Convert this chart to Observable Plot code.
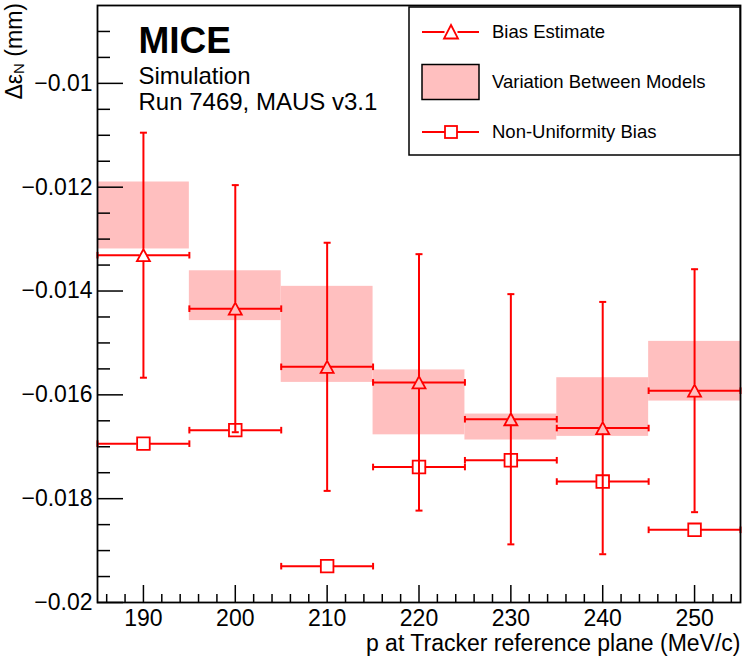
<!DOCTYPE html>
<html>
<head>
<meta charset="utf-8">
<script src="https://cdn.jsdelivr.net/npm/d3@7"></script>
<script src="https://cdn.jsdelivr.net/npm/@observablehq/plot@0.6"></script>
<style>
  body { margin: 0; background: #fff; }
  #chart { width: 747px; height: 657px; }
</style>
</head>
<body>
<div id="chart"></div>
<script>
// ---- data ----
const momentum = [190, 200, 210, 220, 230, 240, 250];
const binHalfWidth = 5;
const biasEstimate = [-0.01331, -0.01434, -0.01546, -0.01576, -0.01647, -0.01664, -0.01592];
const biasError = [0.00236, 0.00238, 0.00239, 0.00247, 0.00241, 0.00243, 0.00234];
const modelUpper = [-0.01190, -0.01361, -0.01391, -0.01552, -0.01637, -0.01567, -0.01497];
const modelLower = [-0.01319, -0.01457, -0.01576, -0.01677, -0.01687, -0.01680, -0.01612];
const nonUniformity = [-0.01694, -0.01668, -0.01930, -0.01739, -0.01726, -0.01767, -0.01860];

const xMajorTicks = [190, 200, 210, 220, 230, 240, 250];
const xMinorTicks = [186, 188, 192, 194, 196, 198, 202, 204, 206, 208, 212, 214, 216, 218, 222, 224, 226, 228,
                     232, 234, 236, 238, 242, 244, 246, 248, 252, 254];
const yMajorTicks = [-0.02, -0.018, -0.016, -0.014, -0.012, -0.01];
const yTickLabels = ["\u22120.02", "\u22120.018", "\u22120.016", "\u22120.014", "\u22120.012", "\u22120.01"];
const yMinorTicks = [-0.0195, -0.019, -0.0185, -0.0175, -0.017, -0.0165, -0.0155, -0.015, -0.0145,
                     -0.0135, -0.013, -0.0125, -0.0115, -0.011, -0.0105, -0.0095, -0.009];

const seriesNames = ["Bias Estimate", "Variation Between Models", "Non-Uniformity Bias"];

// ---- styling ----
const RED = "#ff0000";
const BAND = "#ffbfbf";
const W = 747, H = 657;
const M = {left: 97, right: 7, top: 5, bottom: 55};
const plotW = W - M.left - M.right;
const plotH = H - M.top - M.bottom;
const FONT = "'Liberation Sans', Arial, Helvetica, sans-serif";

const rows = momentum.map((p, i) => ({
  p, lo: p - binHalfWidth, hi: p + binHalfWidth,
  bias: biasEstimate[i], bHi: biasEstimate[i] + biasError[i], bLo: biasEstimate[i] - biasError[i],
  mHi: modelUpper[i], mLo: modelLower[i], nu: nonUniformity[i]
}));

// custom symbols (fixed pixel size)
const triangle = {draw(c) { c.moveTo(0, -6); c.lineTo(6.5, 6); c.lineTo(-6.5, 6); c.closePath(); }};
const square = {draw(c) { c.moveTo(-6.3, -6.3); c.lineTo(6.3, -6.3); c.lineTo(6.3, 6.3); c.lineTo(-6.3, 6.3); c.closePath(); }};
const hcap = {draw(c) { c.moveTo(-3.5, 0); c.lineTo(3.5, 0); }};
const vcap = {draw(c) { c.moveTo(0, -3.3); c.lineTo(0, 3.3); }};

const ebar = {stroke: RED, strokeWidth: 2};

const chart = Plot.plot({
  width: W, height: H,
  marginLeft: M.left, marginRight: M.right, marginTop: M.top, marginBottom: M.bottom,
  style: {fontFamily: FONT, fontSize: "23px", background: "white", color: "black"},
  x: {domain: [185, 255], label: null},
  y: {domain: [-0.02, -0.0085], label: null},
  marks: [
    // model variation bands
    Plot.rect(rows, {x1: "lo", x2: "hi", y1: "mLo", y2: "mHi", fill: BAND}),
    // axis ticks (inside)
    Plot.ruleY(yMinorTicks, {y: d => d, insetRight: plotW - 13, stroke: "black", strokeWidth: 1.5}),
    Plot.ruleY(yMajorTicks, {y: d => d, insetRight: plotW - 26, stroke: "black", strokeWidth: 1.5}),
    Plot.ruleX(xMinorTicks, {x: d => d, insetTop: plotH - 8, stroke: "black", strokeWidth: 1.5}),
    Plot.ruleX(xMajorTicks, {x: d => d, insetTop: plotH - 17, stroke: "black", strokeWidth: 1.5}),
    // non-uniformity bias: horizontal bars
    Plot.ruleY(rows, {y: "nu", x1: "lo", x2: "p", insetRight: 6.3, ...ebar}),
    Plot.ruleY(rows, {y: "nu", x1: "p", x2: "hi", insetLeft: 6.3, ...ebar}),
    Plot.dot(rows, {x: "lo", y: "nu", symbol: vcap, fill: "none", ...ebar}),
    Plot.dot(rows, {x: "hi", y: "nu", symbol: vcap, fill: "none", ...ebar}),
    Plot.dot(rows, {x: "p", y: "nu", symbol: square, fill: "none", stroke: RED, strokeWidth: 1.8}),
    // bias estimate: vertical error bars
    Plot.ruleX(rows, {x: "p", y1: "bHi", y2: "bias", insetBottom: 6, ...ebar}),
    Plot.ruleX(rows, {x: "p", y1: "bias", y2: "bLo", insetTop: 6, ...ebar}),
    Plot.dot(rows, {x: "p", y: "bHi", symbol: hcap, fill: "none", ...ebar}),
    Plot.dot(rows, {x: "p", y: "bLo", symbol: hcap, fill: "none", ...ebar}),
    // bias estimate: horizontal bars
    Plot.ruleY(rows, {y: "bias", x1: "lo", x2: "p", insetRight: 3.3, ...ebar}),
    Plot.ruleY(rows, {y: "bias", x1: "p", x2: "hi", insetLeft: 3.3, ...ebar}),
    Plot.dot(rows, {x: "lo", y: "bias", symbol: vcap, fill: "none", ...ebar}),
    Plot.dot(rows, {x: "hi", y: "bias", symbol: vcap, fill: "none", ...ebar}),
    Plot.dot(rows, {x: "p", y: "bias", symbol: triangle, fill: "none", stroke: RED, strokeWidth: 1.8}),
    // frame
    Plot.frame({stroke: "black", strokeWidth: 1.8}),
    // axes labels
    Plot.axisX({ticks: xMajorTicks, tickSize: 0, tickPadding: 7, fontSize: 23, label: null, tickFormat: d => String(d)}),
    Plot.axisY({ticks: yMajorTicks, tickSize: 0, tickPadding: 5, fontSize: 23, label: null,
                tickFormat: (d, i) => yTickLabels[yMajorTicks.indexOf(d)]}),
    Plot.text(["p at Tracker reference plane (MeV/c)"], {frameAnchor: "bottom-right", text: d => d,
      textAnchor: "end", lineAnchor: "bottom", dx: 0, dy: 48, fontSize: 23}),
    // annotations
    Plot.text(["MICE"], {frameAnchor: "top-left", text: d => d, textAnchor: "start", lineAnchor: "bottom",
      dx: 41, dy: 47, fontSize: 37, fontWeight: "bold"}),
    Plot.text(["Simulation"], {frameAnchor: "top-left", text: d => d, textAnchor: "start", lineAnchor: "bottom",
      dx: 41, dy: 78, fontSize: 24}),
    Plot.text(["Run 7469, MAUS v3.1"], {frameAnchor: "top-left", text: d => d, textAnchor: "start", lineAnchor: "bottom",
      dx: 41, dy: 104, fontSize: 24})
  ]
});

document.getElementById("chart").appendChild(chart);

// ---- y-axis title with subscript ----
const svg = d3.select(chart);
const yt = svg.append("text")
  .attr("transform", "translate(22,3) rotate(-90)")
  .attr("text-anchor", "end")
  .attr("font-family", FONT)
  .attr("font-size", 23)
  .attr("fill", "black");
yt.append("tspan").text("\u0394\u03b5");
yt.append("tspan").attr("font-size", 15).attr("dy", 2).text("N");
yt.append("tspan").attr("dy", -2).text(" (mm)");

// ---- legend ----
const lg = svg.append("g").attr("font-family", FONT).attr("font-size", 18.5).attr("text-anchor", "start");
lg.append("rect").attr("x", 409).attr("y", 7).attr("width", 331).attr("height", 148)
  .attr("fill", "white").attr("stroke", "black").attr("stroke-width", 1.5);
const rowsY = [32, 82, 132];
// entry 1: bias estimate
lg.append("line").attr("x1", 422).attr("x2", 444.5).attr("y1", rowsY[0]).attr("y2", rowsY[0]).attr("stroke", RED).attr("stroke-width", 2);
lg.append("line").attr("x1", 457.5).attr("x2", 479).attr("y1", rowsY[0]).attr("y2", rowsY[0]).attr("stroke", RED).attr("stroke-width", 2);
lg.append("path").attr("d", `M451,${rowsY[0] - 7}L458,${rowsY[0] + 6.5}L444,${rowsY[0] + 6.5}Z`)
  .attr("fill", "none").attr("stroke", RED).attr("stroke-width", 1.8);
// entry 2: band
lg.append("rect").attr("x", 422).attr("y", 64.5).attr("width", 57).attr("height", 35)
  .attr("fill", BAND).attr("stroke", "black").attr("stroke-width", 1.5);
// entry 3: non-uniformity
lg.append("line").attr("x1", 422).attr("x2", 445).attr("y1", rowsY[2]).attr("y2", rowsY[2]).attr("stroke", RED).attr("stroke-width", 2);
lg.append("line").attr("x1", 457).attr("x2", 479).attr("y1", rowsY[2]).attr("y2", rowsY[2]).attr("stroke", RED).attr("stroke-width", 2);
lg.append("rect").attr("x", 445).attr("y", rowsY[2] - 6).attr("width", 12).attr("height", 12)
  .attr("fill", "none").attr("stroke", RED).attr("stroke-width", 1.8);
seriesNames.forEach((name, i) => {
  lg.append("text").attr("x", 492).attr("y", rowsY[i]).attr("dy", "0.35em")
    .attr("text-anchor", "start").attr("fill", "black").text(name);
});
</script>
</body>
</html>
